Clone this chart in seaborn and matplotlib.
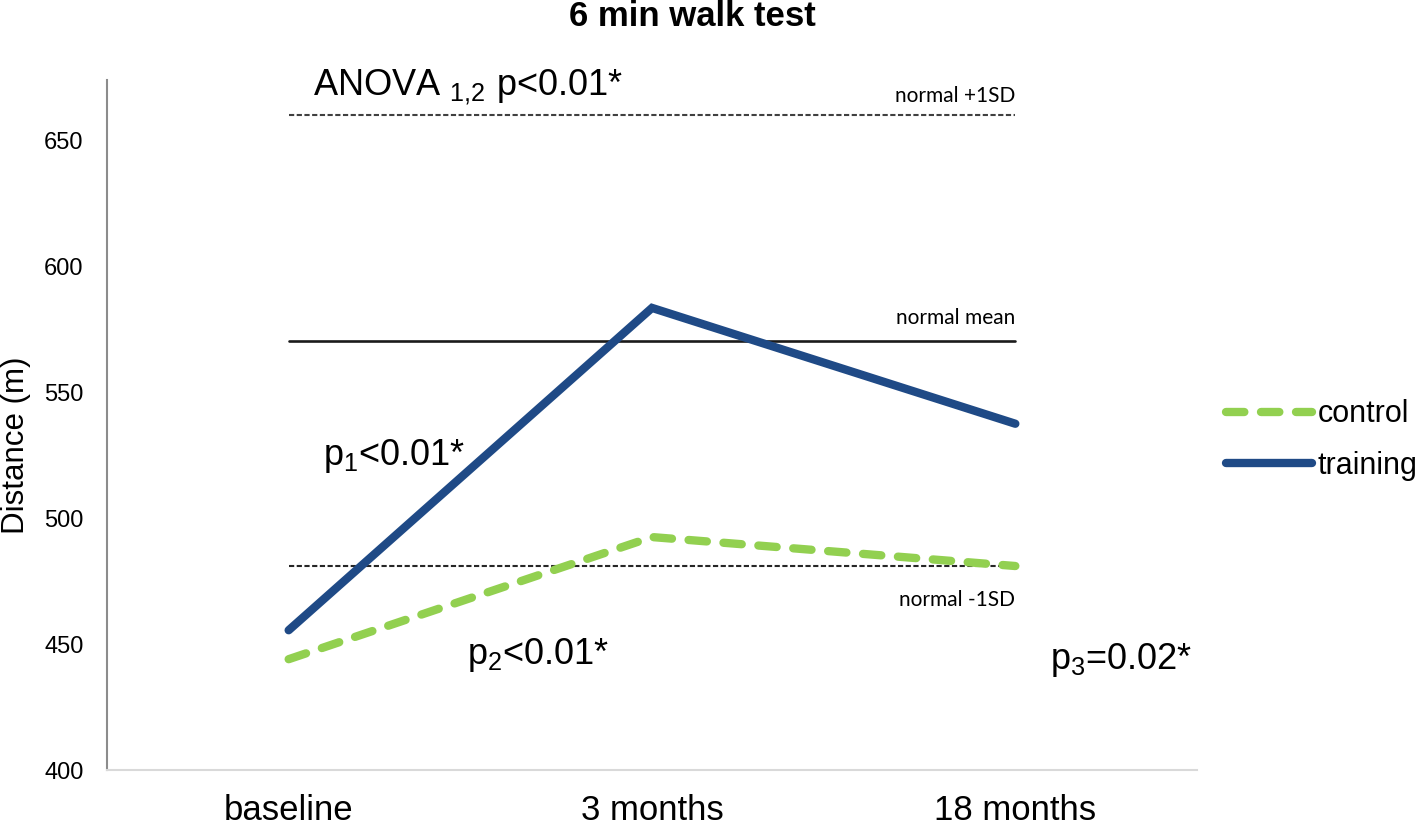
import matplotlib
matplotlib.use("Agg")
import matplotlib.pyplot as plt
import seaborn as sns
import pandas as pd

# ---- data ----
timepoints = ["baseline", "3 months", "18 months"]
control = [444, 492.5, 481]
training = [455.5, 583.5, 537.5]
normal_plus_1sd = 660
normal_mean = 570.5
normal_minus_1sd = 481
y_ticks = [400, 450, 500, 550, 600, 650]

pos = list(range(len(timepoints)))
df = pd.DataFrame({
    "pos": pos * 2,
    "distance": control + training,
    "group": ["control"] * 3 + ["training"] * 3,
})

sns.set_theme(style="white")
plt.rcParams["font.family"] = ["Liberation Sans", "DejaVu Sans"]
plt.rcParams["mathtext.fontset"] = "custom"
plt.rcParams["mathtext.rm"] = "Liberation Sans"
plt.rcParams["mathtext.it"] = "Liberation Sans:italic"
for k in ["text.color", "axes.labelcolor", "xtick.color", "ytick.color"]:
    plt.rcParams[k] = "black"

fig = plt.figure(figsize=(14.18, 8.27), dpi=100)
ax = fig.add_axes([107 / 1418, 1 - 770 / 827, (1197 - 107) / 1418, (770 - 80) / 827])

green = "#92D050"
blue = "#1F4A86"

# reference lines
ax.plot([pos[0], pos[-1]], [normal_plus_1sd] * 2, color="#404040",
        lw=1.5, ls=(0, (2.5, 1.2)))
ax.plot([pos[0], pos[-1]], [normal_mean] * 2, color="#1a1a1a", lw=1.9)
ax.plot([pos[0], pos[-1]], [normal_minus_1sd] * 2, color="#262626",
        lw=1.5, ls=(0, (2.5, 1.2)))

sns.lineplot(data=df, x="pos", y="distance", hue="group", style="group",
             palette={"control": green, "training": blue},
             dashes={"control": (2.2, 2.0), "training": ""},
             linewidth=6.0, sort=False, ax=ax, legend=False)

handles = {}
for ln in ax.get_lines()[3:]:
    ln.set_dash_capstyle("round")
    ln.set_solid_capstyle("round")
    ln.set_solid_joinstyle("miter")
for ln, name in zip(ax.get_lines()[3:], ["control", "training"]):
    handles[name] = ln

ax.set_xlim(-0.5, len(timepoints) - 0.5)
ax.set_xticks(pos)
ax.set_xticklabels(timepoints)
ax.set_ylim(400, 674)
ax.set_yticks(y_ticks)
ax.tick_params(axis="y", labelsize=17, pad=17, length=0)
ax.tick_params(axis="x", labelsize=25, pad=17, length=0)
ax.set_xlabel("")
ax.set_ylabel("")
fig.text(16 / 1418, 1 - 445 / 827, "Distance (m)", rotation=90, ha="center",
         va="center", fontsize=22.5)

for s in ["top", "right"]:
    ax.spines[s].set_visible(False)
ax.spines["left"].set_color("#8c8c8c")
ax.spines["left"].set_linewidth(1.5)
ax.spines["bottom"].set_color("#d9d9d9")
ax.spines["bottom"].set_linewidth(1.5)

# legend
leg = ax.legend([handles["control"], handles["training"]], ["control", "training"],
                loc="center left", bbox_to_anchor=(1226 / 1418, 1 - 440 / 827),
                bbox_transform=fig.transFigure, frameon=False, fontsize=22,
                handlelength=2.8, handletextpad=0.2, labelspacing=0.7,
                borderpad=0, borderaxespad=0)

# annotations
ax.text(2, 667.5, "normal +1SD", ha="right", va="center", fontsize=15, family="Lato")
ax.text(2, 579.5, "normal mean", ha="right", va="center", fontsize=15, family="Lato")
ax.text(2, 467.5, "normal -1SD", ha="right", va="center", fontsize=15, family="Lato")

ax.text(0.067, 671, r"ANOVA $_{\mathrm{1{,}2}}$ p<0.01*", ha="left", va="center", fontsize=26)
ax.text(0.095, 524.5, r"p$_{\mathrm{1}}$<0.01*", ha="left", va="center", fontsize=26)
ax.text(0.49, 445.5, r"p$_{\mathrm{2}}$<0.01*", ha="left", va="center", fontsize=26)
ax.text(2.095, 443.5, r"p$_{\mathrm{3}}$=0.02*", ha="left", va="center", fontsize=26)

fig.text(692 / 1418, 1 - 17 / 827, "6 min walk test", ha="center", va="center",
         fontsize=25, fontweight="bold")

fig.savefig("out.png", dpi=100)
